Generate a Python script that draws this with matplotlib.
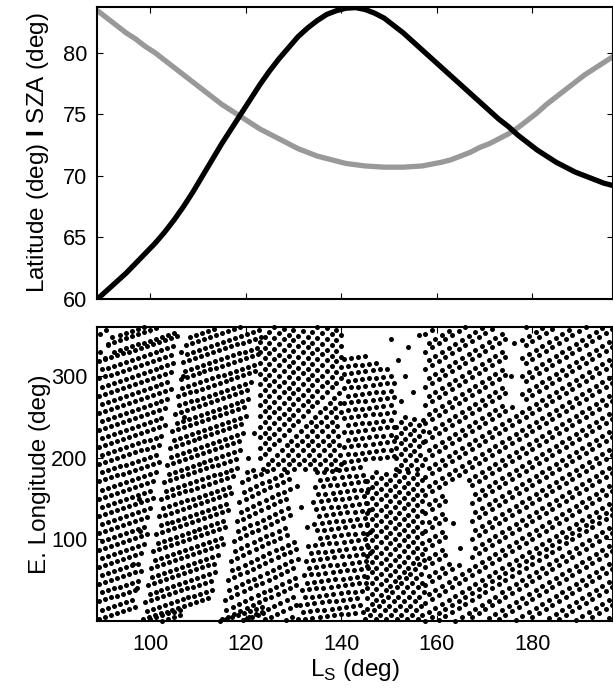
import numpy as np
import matplotlib
matplotlib.use("Agg")
import matplotlib.pyplot as plt

plt.rcParams['font.family'] = ['Liberation Sans', 'DejaVu Sans']
plt.rcParams['mathtext.fontset'] = 'custom'
plt.rcParams['mathtext.rm'] = 'Liberation Sans'
plt.rcParams['mathtext.bf'] = 'Liberation Sans:bold'

# latitude and solar zenith angle of the occultations vs season
ls_curve = [89, 91, 93, 95, 97, 99, 101, 103, 105, 107, 109, 111, 113, 115, 117, 119,
            121, 123, 125, 127, 129, 131, 133, 135, 137, 139, 141, 143, 145, 147, 149,
            151, 153, 155, 157, 159, 161, 163, 165, 167, 169, 171, 173, 175, 177, 179,
            181, 183, 185, 187, 189, 191, 193, 195, 197]
latitude = [60.0, 60.7, 61.4, 62.1, 62.9, 63.7, 64.5, 65.4, 66.4, 67.5, 68.7, 70.0,
            71.3, 72.6, 73.8, 75.0, 76.2, 77.4, 78.5, 79.5, 80.4, 81.3, 82.0, 82.6,
            83.1, 83.4, 83.6, 83.65, 83.5, 83.2, 82.8, 82.2, 81.6, 80.9, 80.2, 79.5,
            78.8, 78.1, 77.4, 76.7, 76.0, 75.3, 74.6, 74.0, 73.3, 72.7, 72.1, 71.6,
            71.1, 70.7, 70.3, 70.0, 69.7, 69.4, 69.2]
sza = [83.4, 82.8, 82.2, 81.6, 81.1, 80.5, 80.0, 79.4, 78.8, 78.2, 77.6, 77.0, 76.4,
       75.8, 75.3, 74.8, 74.3, 73.8, 73.4, 73.0, 72.6, 72.2, 71.9, 71.6, 71.4, 71.2,
       71.0, 70.9, 70.8, 70.75, 70.7, 70.7, 70.7, 70.75, 70.8, 70.95, 71.1, 71.3,
       71.6, 71.9, 72.3, 72.6, 73.0, 73.4, 73.9, 74.5, 75.1, 75.8, 76.4, 77.0, 77.6,
       78.2, 78.7, 79.2, 79.7]

# ground tracks, one group per observing period:
# first point (Ls, E. longitude), number of points, and the step between points
a_step = (1.25, 2.4)
a_lon0 = [3, 14, 24, 35, 45, 56, 66, 77, 87, 98, 108, 119, 129, 140, 150, 161, 171,
          182, 192, 203, 213, 224, 234, 245, 255, 266, 276, 287, 297, 308, 318, 329,
          339, 350]
a_ls0 = [89.3, 89.9, 89.3, 89.9, 89.3, 89.9, 89.3, 89.9, 89.3, 89.9, 89.3, 89.9, 89.3,
         89.9, 89.3, 89.9, 89.3, 89.9, 89.3, 89.9, 89.3, 89.9, 89.3, 89.9, 89.3, 89.9,
         89.3, 89.9, 89.3, 89.9, 89.3, 92.5, 91.3, 93.8]
a_n = [7, 6, 7, 7, 8, 7, 8, 8, 9, 8, 9, 9, 10, 9, 10, 10, 11, 10, 11, 11, 12, 11, 12,
       12, 13, 12, 13, 13, 13, 13, 14, 11, 13, 11]

b_step = (1.25, 2.4)
b_lon0 = [2, 12, 23, 33, 44, 54, 65, 75, 86, 96, 107, 117, 128, 138, 149, 159, 170,
          180, 191, 201, 212, 222, 233, 243, 254, 264, 275, 285, 296, 306, 317, 327,
          338, 348]
b_ls0 = [98.45, 99.3, 99.0, 99.9, 99.6, 100.5, 100.2, 101.0, 100.7, 101.6, 101.3, 102.2,
         101.9, 102.7, 102.4, 103.3, 103.0, 103.9, 103.6, 104.4, 104.1, 105.0, 104.7,
         105.6, 105.3, 106.1, 105.8, 106.7, 106.4, 107.3, 107.0, 107.8, 107.5, 108.4]
b_n = [12, 12, 12, 12, 12, 12, 13, 12, 13, 12, 13, 12, 13, 12, 13, 13, 13, 13, 13, 13,
       13, 13, 13, 13, 13, 13, 14, 13, 14, 13, 14, 13, 14, 13]

c_step = (1.3, 3.5)
c_lon0 = [2, 14, 26, 38, 50, 62, 74, 86, 98, 110, 122, 134, 146, 158, 170, 182, 1, 2, 1]
c_ls0 = [115.0, 116.0, 115.7, 116.6, 116.3, 117.2, 116.9, 117.8, 117.5, 118.4, 118.1,
         119.0, 118.7, 119.6, 119.3, 120.2, 119.5, 124.0, 128.5]
c_n = [13, 12, 12, 12, 12, 11, 11, 11, 11, 10, 10, 10, 9, 8, 5, 2, 9, 6, 2]

d_step = (1.0, 5.8)
d_lon0 = [186, 186, 186, 186, 186, 186, 186, 186, 199, 212, 225, 238, 251, 264, 277,
          290, 303, 316, 329, 342]
d_ls0 = [123.6, 125.8, 128.0, 130.2, 132.4, 134.6, 136.8, 139.0, 123.0, 123.0, 123.0,
         123.0, 123.0, 123.0, 123.0, 123.0, 123.0, 123.0, 123.0, 123.0]
d_n = [17, 15, 13, 10, 8, 6, 4, 2, 18, 18, 18, 18, 18, 17, 15, 13, 10, 8, 6, 4]

e_step = (1.5, 1.0)
e_lon0 = [2, 11, 20, 29, 38, 47, 56, 65, 74, 83, 92, 101, 110, 119, 128, 137, 146, 155,
          164, 173, 182]
e_ls0 = [131.0, 132.0, 131.4, 132.4, 131.8, 132.8, 132.2, 133.2, 132.6, 133.6, 133.0,
         134.0, 133.4, 134.4, 133.8, 134.8, 134.2, 135.2, 134.6, 135.6, 135.0]
e_n = [10, 9, 9, 9, 10, 9, 10, 9, 10, 9, 9, 9, 9, 8, 9, 8, 8, 8, 8, 7, 7]

f_step = (1.5, 1.0)
f_lon0 = [195, 204, 213, 222, 231, 240, 249, 258, 267, 276, 285, 294, 303, 312, 321]
f_ls0 = [140.6, 141.35, 140.6, 141.35, 140.6, 141.35, 140.6, 141.35, 140.6, 141.35,
         140.6, 141.35, 140.6, 141.35, 140.6]
f_n = [8, 7, 8, 7, 8, 7, 8, 7, 8, 7, 8, 7, 7, 5, 4]

g_step = (0.95, 5.6)
g_lon0 = [2, 2, 2, 2, 2, 2, 15, 28, 41, 54, 67, 80, 93, 106, 119, 132, 145, 158, 171,
          186, 186, 186, 199, 212, 225, 238]
g_ls0 = [145.0, 147.2, 149.4, 151.6, 153.8, 156.0, 145.5, 145.5, 145.5, 145.5, 145.5,
         145.5, 145.5, 145.5, 145.5, 145.5, 145.5, 145.5, 145.5, 151.5, 153.7, 155.9,
         151.5, 151.5, 151.5, 151.5]
g_n = [14, 11, 9, 7, 4, 2, 13, 13, 13, 13, 13, 13, 13, 13, 12, 10, 8, 5, 3, 7, 4, 2, 7,
       7, 5, 3]

r_step = (1.4, 4.9)
r_lon0 = [0, 11, 22, 33, 44, 55, 66, 77, 88, 99, 110, 121, 132, 143, 154, 165, 176, 187,
          198, 209, 220, 231, 242, 253, 264, 275, 286, 297, 308, 319, 330, 341, 352]
r_ls0 = [157.6, 158.3, 157.6, 158.3, 157.6, 158.3, 157.6, 158.3, 157.6, 158.3, 157.6,
         158.3, 157.6, 158.3, 157.6, 158.3, 157.6, 158.3, 157.6, 158.3, 157.6, 158.3,
         157.6, 158.3, 157.6, 158.3, 157.6, 158.3, 157.6, 158.3, 157.6, 158.3, 157.6]
r_n = [29, 28, 29, 28, 29, 28, 29, 28, 29, 28, 29, 28, 29, 28, 29, 28, 29, 28, 29, 28,
       29, 28, 29, 28, 29, 28, 29, 28, 29, 28, 29, 28, 29]

# isolated occultations between the groups
lone_ls = [96.5, 97.2, 98.0, 106.8, 107.2, 106.5, 152.5, 153.3, 154.0, 155.0, 156.2,
           151.8, 175.5, 176.2, 163.5, 164.8, 131.5, 132.8, 150.5, 120.5, 121.8, 97.6,
           89.5, 90.8, 91.2, 89.6, 92.0, 90.5]
lone_lon = [70, 40, 110, 300, 250, 330, 270, 300, 335, 280, 350, 320, 300, 340, 120, 90,
            140, 115, 345, 200, 230, 150, 352, 356, 338, 330, 348, 322]

# periods without data: (Ls from, Ls to, lon from, lon to)
no_data = [(129.5, 134.0, 100, 160), (161.8, 166.8, 70, 170), (174.6, 177.6, 265, 360)]

groups = [(a_step, a_ls0, a_lon0, a_n), (b_step, b_ls0, b_lon0, b_n),
          (c_step, c_ls0, c_lon0, c_n), (d_step, d_ls0, d_lon0, d_n),
          (e_step, e_ls0, e_lon0, e_n), (f_step, f_ls0, f_lon0, f_n),
          (g_step, g_ls0, g_lon0, g_n), (r_step, r_ls0, r_lon0, r_n)]

occ_ls = list(lone_ls)
occ_lon = list(lone_lon)
for (dls, dlon), ls0s, lon0s, ns in groups:
    for ls0, lon0, n in zip(ls0s, lon0s, ns):
        for k in range(n):
            ls = ls0 + k * dls
            lon = (lon0 + k * dlon) % 360
            if any(l0 <= ls <= l1 and o0 <= lon <= o1 for l0, l1, o0, o1 in no_data):
                continue
            occ_ls.append(ls)
            occ_lon.append(lon)

fig = plt.figure(figsize=(6.13, 6.89), dpi=100)
ax1 = fig.add_axes([97 / 613, 1 - 299 / 689, 515.5 / 613, 292 / 689])
ax2 = fig.add_axes([97 / 613, 1 - 621 / 689, 515.5 / 613, 294 / 689])

ax1.plot(ls_curve, sza, color='#999999', lw=3.8, solid_capstyle='round', zorder=2)
ax1.plot(ls_curve, latitude, color='black', lw=3.8, solid_capstyle='round', zorder=3)
ax1.set_xlim(88.9, 196.8)
ax1.set_ylim(60, 83.7)
ax1.set_yticks([60, 65, 70, 75, 80])
ax1.set_xticks([100, 120, 140, 160, 180])
ax1.set_xticklabels([])
ax1.set_ylabel(r'Latitude (deg) $\mathbf{I}$ SZA (deg)', fontsize=17.5)

ax2.plot(occ_ls, occ_lon, 'o', color='black', ms=3.6, mew=0, clip_on=False)
ax2.set_xlim(88.9, 196.8)
ax2.set_ylim(0, 360)
ax2.set_yticks([100, 200, 300])
ax2.set_xticks([100, 120, 140, 160, 180])
ax2.set_ylabel('E. Longitude (deg)', fontsize=17.5)
ax2.set_xlabel(r'L$_\mathrm{S}$ (deg)', fontsize=17.5, labelpad=2)

for ax in (ax1, ax2):
    for sp in ax.spines.values():
        sp.set_linewidth(1.5)
    ax.tick_params(direction='in', length=4, width=0.8, top=True, right=True,
                   labelsize=15.7, pad=7)
    ax.yaxis.set_label_coords(-0.09, 0.5)
ax2.tick_params(axis='x', pad=9)

fig.savefig('out.png', dpi=100)
